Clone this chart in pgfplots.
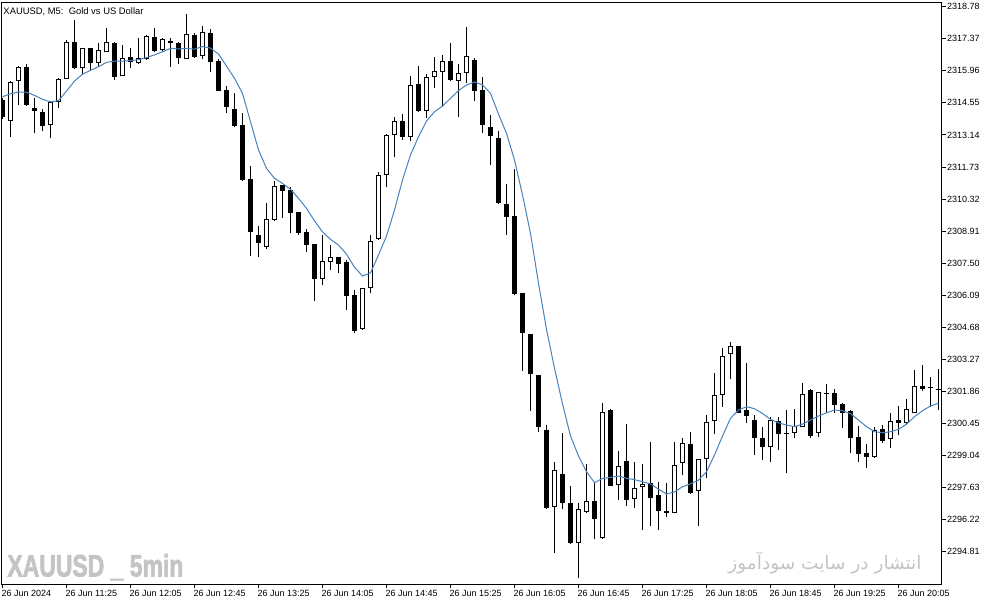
\documentclass[border=0pt]{standalone}
\usepackage{pgfplots}
\pgfplotsset{compat=1.18}
\usepackage{pgfplotstable}
\usepackage{fontspec}
\setmainfont{Liberation Sans}
\newfontfamily\wmfont{Liberation Sans}[BoldFeatures={FakeBold=2.5}]
\newfontfamily\arabicfont[Script=Arabic]{DejaVu Sans}
\TeXXeTstate=1
\definecolor{mablue}{RGB}{70,130,190}
\definecolor{wmgray}{RGB}{196,196,196}

\pgfplotstableread{
x o h l c
1 2313.77 2315.51 2313.05 2315.49
2 2315.52 2316.19 2314.47 2316.14
6 2313.58 2314.63 2312.99 2314.60
7 2314.60 2315.63 2314.34 2315.60
8 2315.60 2317.32 2315.58 2317.21
10 2316.07 2316.98 2315.78 2316.95
12 2316.29 2317.17 2316.14 2316.88
13 2316.80 2317.83 2316.79 2317.24
15 2315.75 2317.10 2315.73 2316.54
17 2316.29 2317.39 2316.27 2316.51
18 2316.48 2317.54 2316.44 2317.51
20 2316.86 2317.42 2316.80 2317.36
23 2316.48 2318.46 2316.47 2317.57
25 2316.61 2317.93 2316.47 2317.68
33 2308.23 2310.13 2308.14 2309.43
34 2309.41 2311.11 2309.37 2310.89
40 2306.80 2308.74 2306.54 2307.60
41 2307.57 2308.30 2307.20 2307.79
45 2304.59 2306.41 2304.58 2306.39
46 2306.39 2308.74 2306.17 2308.49
47 2308.55 2311.52 2308.52 2311.36
48 2311.36 2313.16 2310.84 2313.14
49 2313.12 2313.94 2312.15 2313.75
51 2313.06 2315.73 2312.89 2315.32
53 2314.21 2315.82 2313.90 2315.68
54 2315.68 2316.58 2315.19 2315.97
55 2315.92 2316.66 2314.38 2316.41
57 2315.52 2316.26 2313.94 2315.85
58 2315.85 2317.87 2315.44 2316.61
69 2296.76 2298.77 2294.77 2298.40
72 2295.18 2296.94 2293.64 2296.68
73 2296.57 2298.67 2296.53 2297.04
75 2295.40 2301.35 2295.39 2300.96
77 2297.73 2299.25 2297.10 2298.57
79 2297.12 2298.77 2296.72 2297.60
80 2297.64 2298.67 2295.77 2297.79
84 2296.53 2299.62 2296.50 2298.63
85 2298.70 2299.83 2298.18 2299.58
87 2297.49 2298.89 2295.94 2298.87
88 2298.87 2300.82 2298.04 2300.50
89 2300.56 2302.66 2299.97 2301.69
90 2301.69 2303.76 2301.19 2303.42
91 2303.49 2304.05 2302.39 2303.86
96 2299.40 2300.75 2298.77 2300.60
99 2300.02 2301.07 2299.80 2300.34
100 2300.31 2302.24 2300.29 2301.75
102 2300.02 2301.84 2299.84 2301.82
109 2298.96 2300.31 2298.92 2300.16
111 2299.75 2300.90 2299.36 2300.56
113 2300.46 2301.51 2300.43 2301.07
114 2300.90 2302.80 2300.89 2302.10
}\bull

\pgfplotstableread{
x o h l c
0 2314.68 2314.77 2313.84 2313.91
3 2316.12 2316.24 2314.42 2314.46
4 2314.31 2314.75 2313.21 2314.19
5 2314.14 2314.28 2313.31 2313.55
9 2317.21 2318.20 2316.04 2316.10
11 2316.95 2316.98 2316.00 2316.29
14 2317.17 2317.21 2315.56 2315.70
16 2316.56 2316.98 2316.10 2316.36
19 2317.46 2317.83 2316.80 2316.85
21 2317.27 2317.42 2316.14 2317.17
22 2317.17 2317.24 2316.25 2316.51
24 2317.54 2317.61 2316.51 2316.55
26 2317.64 2317.79 2315.92 2316.36
27 2316.41 2316.47 2315.07 2315.09
28 2315.12 2315.29 2314.12 2314.36
29 2314.28 2315.00 2313.50 2313.53
30 2313.58 2314.12 2311.13 2311.16
31 2311.20 2311.77 2307.82 2308.88
32 2308.74 2309.14 2307.79 2308.37
35 2310.94 2310.96 2309.50 2310.69
36 2310.72 2310.84 2308.81 2309.72
37 2309.75 2309.77 2308.74 2308.84
38 2308.87 2308.99 2308.00 2308.30
39 2308.34 2308.36 2305.85 2306.82
42 2307.76 2307.78 2307.08 2307.46
43 2307.57 2307.64 2305.44 2306.06
44 2306.10 2306.32 2304.44 2304.53
50 2313.75 2314.05 2312.92 2313.06
52 2315.38 2316.17 2314.16 2314.21
56 2316.38 2317.20 2315.51 2315.56
59 2316.44 2316.51 2314.65 2315.09
60 2315.12 2315.68 2313.24 2313.56
61 2313.49 2314.02 2311.83 2313.11
62 2313.01 2313.31 2310.12 2310.13
63 2310.10 2310.98 2308.74 2309.54
64 2309.57 2311.63 2306.10 2306.15
65 2306.18 2306.20 2302.77 2304.42
66 2304.38 2304.40 2301.01 2302.63
67 2302.58 2302.60 2300.09 2300.28
68 2300.16 2300.38 2296.71 2296.72
70 2298.23 2300.05 2296.68 2296.94
71 2296.94 2297.70 2295.17 2295.18
74 2297.04 2297.89 2295.36 2296.24
76 2301.04 2301.09 2297.70 2297.71
78 2298.80 2300.43 2296.83 2297.09
81 2297.82 2299.64 2295.96 2297.16
82 2297.30 2297.89 2295.77 2296.61
83 2296.60 2297.82 2296.35 2296.50
86 2299.55 2300.06 2297.35 2297.41
92 2303.86 2303.88 2300.92 2300.93
93 2301.04 2303.10 2300.46 2300.79
94 2300.60 2300.82 2299.06 2299.83
95 2299.80 2300.30 2298.86 2299.40
97 2300.56 2300.75 2299.28 2299.97
98 2300.02 2301.04 2298.26 2299.98
101 2301.93 2301.95 2299.80 2299.90
103 2301.79 2302.19 2300.90 2301.75
104 2301.78 2301.95 2300.90 2301.26
105 2301.31 2301.34 2300.27 2300.93
106 2301.01 2301.04 2299.17 2299.80
107 2299.84 2300.34 2298.77 2299.11
108 2299.14 2299.55 2298.48 2298.99
110 2300.19 2300.38 2299.58 2299.69
112 2300.60 2301.22 2299.94 2300.48
115 2302.10 2303.02 2301.89 2301.95
116 2302.04 2302.48 2301.19 2302.00
117 2301.95 2302.83 2301.04 2301.91
}\bear

\pgfplotstableread{
x ma
0 2314.82
1 2314.95
2 2315.03
3 2315.02
4 2314.88
5 2314.71
6 2314.59
7 2314.65
8 2315.07
9 2315.51
10 2315.81
11 2315.98
12 2316.14
13 2316.33
14 2316.39
15 2316.39
16 2316.41
17 2316.45
18 2316.54
19 2316.66
20 2316.80
21 2316.95
22 2316.92
23 2316.95
24 2316.91
25 2317.03
26 2316.96
27 2316.70
28 2316.17
29 2315.63
30 2314.97
31 2313.72
32 2312.48
33 2311.67
34 2311.23
35 2311.01
36 2310.75
37 2310.35
38 2309.91
39 2309.36
40 2308.88
41 2308.55
42 2308.30
43 2307.90
44 2307.32
45 2306.94
46 2307.07
47 2307.86
48 2308.69
49 2309.84
50 2311.16
51 2312.26
52 2313.06
53 2313.75
54 2314.16
55 2314.41
56 2314.75
57 2315.09
58 2315.34
59 2315.47
60 2315.34
61 2314.97
62 2314.06
63 2313.21
64 2312.04
65 2310.50
66 2308.81
67 2306.62
68 2304.59
69 2302.88
70 2301.31
71 2299.90
72 2299.02
73 2298.33
74 2297.85
75 2298.03
76 2298.08
77 2298.14
78 2298.04
79 2297.98
80 2297.89
81 2297.79
82 2297.56
83 2297.35
84 2297.44
85 2297.67
86 2297.79
87 2297.96
88 2298.33
89 2299.06
90 2299.90
91 2300.68
92 2301.04
93 2301.19
94 2301.10
95 2300.89
96 2300.63
97 2300.48
98 2300.38
99 2300.31
100 2300.42
101 2300.60
102 2300.78
103 2300.92
104 2301.04
105 2301.01
106 2300.88
107 2300.60
108 2300.31
109 2300.09
110 2300.04
111 2300.09
112 2300.19
113 2300.42
114 2300.75
115 2301.01
116 2301.22
117 2301.34
}\ma

\begin{document}
\begin{tikzpicture}
\begin{axis}[
  scale only axis, width=940bp, height=582bp,
  xmin=-0.125, xmax=117.375, ymin=2293.369, ymax=2318.965,
  axis line style={line width=1bp, black},
  every tick/.style={line width=1bp, black},
  major tick length=4bp,
  tick align=outside,
  xtick={0,8,...,112},
  xticklabels={26 Jun 2024,26 Jun 11:25,26 Jun 12:05,26 Jun 12:45,26 Jun 13:25,26 Jun 14:05,26 Jun 14:45,26 Jun 15:25,26 Jun 16:05,26 Jun 16:45,26 Jun 17:25,26 Jun 18:05,26 Jun 18:45,26 Jun 19:25,26 Jun 20:05},
  ytick={2294.81,2296.22,2297.63,2299.04,2300.45,2301.86,2303.27,2304.68,2306.09,2307.50,2308.91,2310.32,2311.73,2313.14,2314.55,2315.96,2317.37,2318.78},
  yticklabels={2294.81,2296.22,2297.63,2299.04,2300.45,2301.86,2303.27,2304.68,2306.09,2307.50,2308.91,2310.32,2311.73,2313.14,2314.55,2315.96,2317.37,2318.78},
  xtick pos=bottom, ytick pos=right, yticklabel pos=right,
  scaled ticks=false,
  ticklabel style={font=\fontsize{9bp}{11bp}\selectfont, inner sep=0pt},
  xticklabel style={anchor=north west, xshift=-1bp, yshift=-2bp},
  yticklabel style={anchor=west, xshift=1.5bp},
  clip=true,
  candle/.style={draw=none, mark=none, forget plot, error bars/.cd, y dir=plus, y explicit, error mark=none},
]
% wicks
\addplot[candle, error bar style={draw=black, line width=1bp}]
  table[x=x, y=l, y error plus expr=\thisrow{h}-\thisrow{l}] {\bull};
\addplot[candle, error bar style={draw=black, line width=1bp}]
  table[x=x, y=l, y error plus expr=\thisrow{h}-\thisrow{l}] {\bear};
% bullish bodies: black outline, white inside
\addplot[candle, error bar style={draw=black, line width=5bp}]
  table[x=x, y=o, y error plus expr=\thisrow{c}-\thisrow{o}] {\bull};
\addplot[candle, error bar style={draw=white, line width=3bp}]
  table[x=x, y expr=\thisrow{o}+0.044, y error plus expr=\thisrow{c}-\thisrow{o}-0.088] {\bull};
% bearish bodies
\addplot[candle, error bar style={draw=black, line width=5bp}]
  table[x=x, y=c, y error plus expr=\thisrow{o}-\thisrow{c}] {\bear};
% moving average
\addplot[mablue, line width=1bp, mark=none] table[x=x, y=ma] {\ma};

\coordinate (nw) at (rel axis cs:0,1);
\coordinate (sw) at (rel axis cs:0,0);
\coordinate (se) at (rel axis cs:1,0);
\coordinate (ne) at (rel axis cs:1,1);
\end{axis}
\node[anchor=base west, inner sep=0pt, font=\fontsize{9.4bp}{11bp}\selectfont] at ([shift={(1.8bp,-12.5bp)}]nw) {XAUUSD, M5:\ \ Gold vs US Dollar};
\node[anchor=base west, inner sep=0pt, text=wmgray, xscale=0.74, font=\fontsize{31bp}{32bp}\selectfont\wmfont\bfseries] at ([shift={(5.8bp,8bp)}]sw) {XAUUSD \_ 5min};
\node[anchor=base east, inner sep=0pt, text=wmgray, font=\fontsize{18.5bp}{21bp}\selectfont] at ([shift={(-19.8bp,15.5bp)}]se) {\arabicfont\beginR انتشار در سایت سودآموز\endR};
\pgfresetboundingbox
\path[use as bounding box] ([shift={(-1.5bp,-20.5bp)}]sw) rectangle ([shift={(52.5bp,2.5bp)}]ne);
\end{tikzpicture}
\end{document}
